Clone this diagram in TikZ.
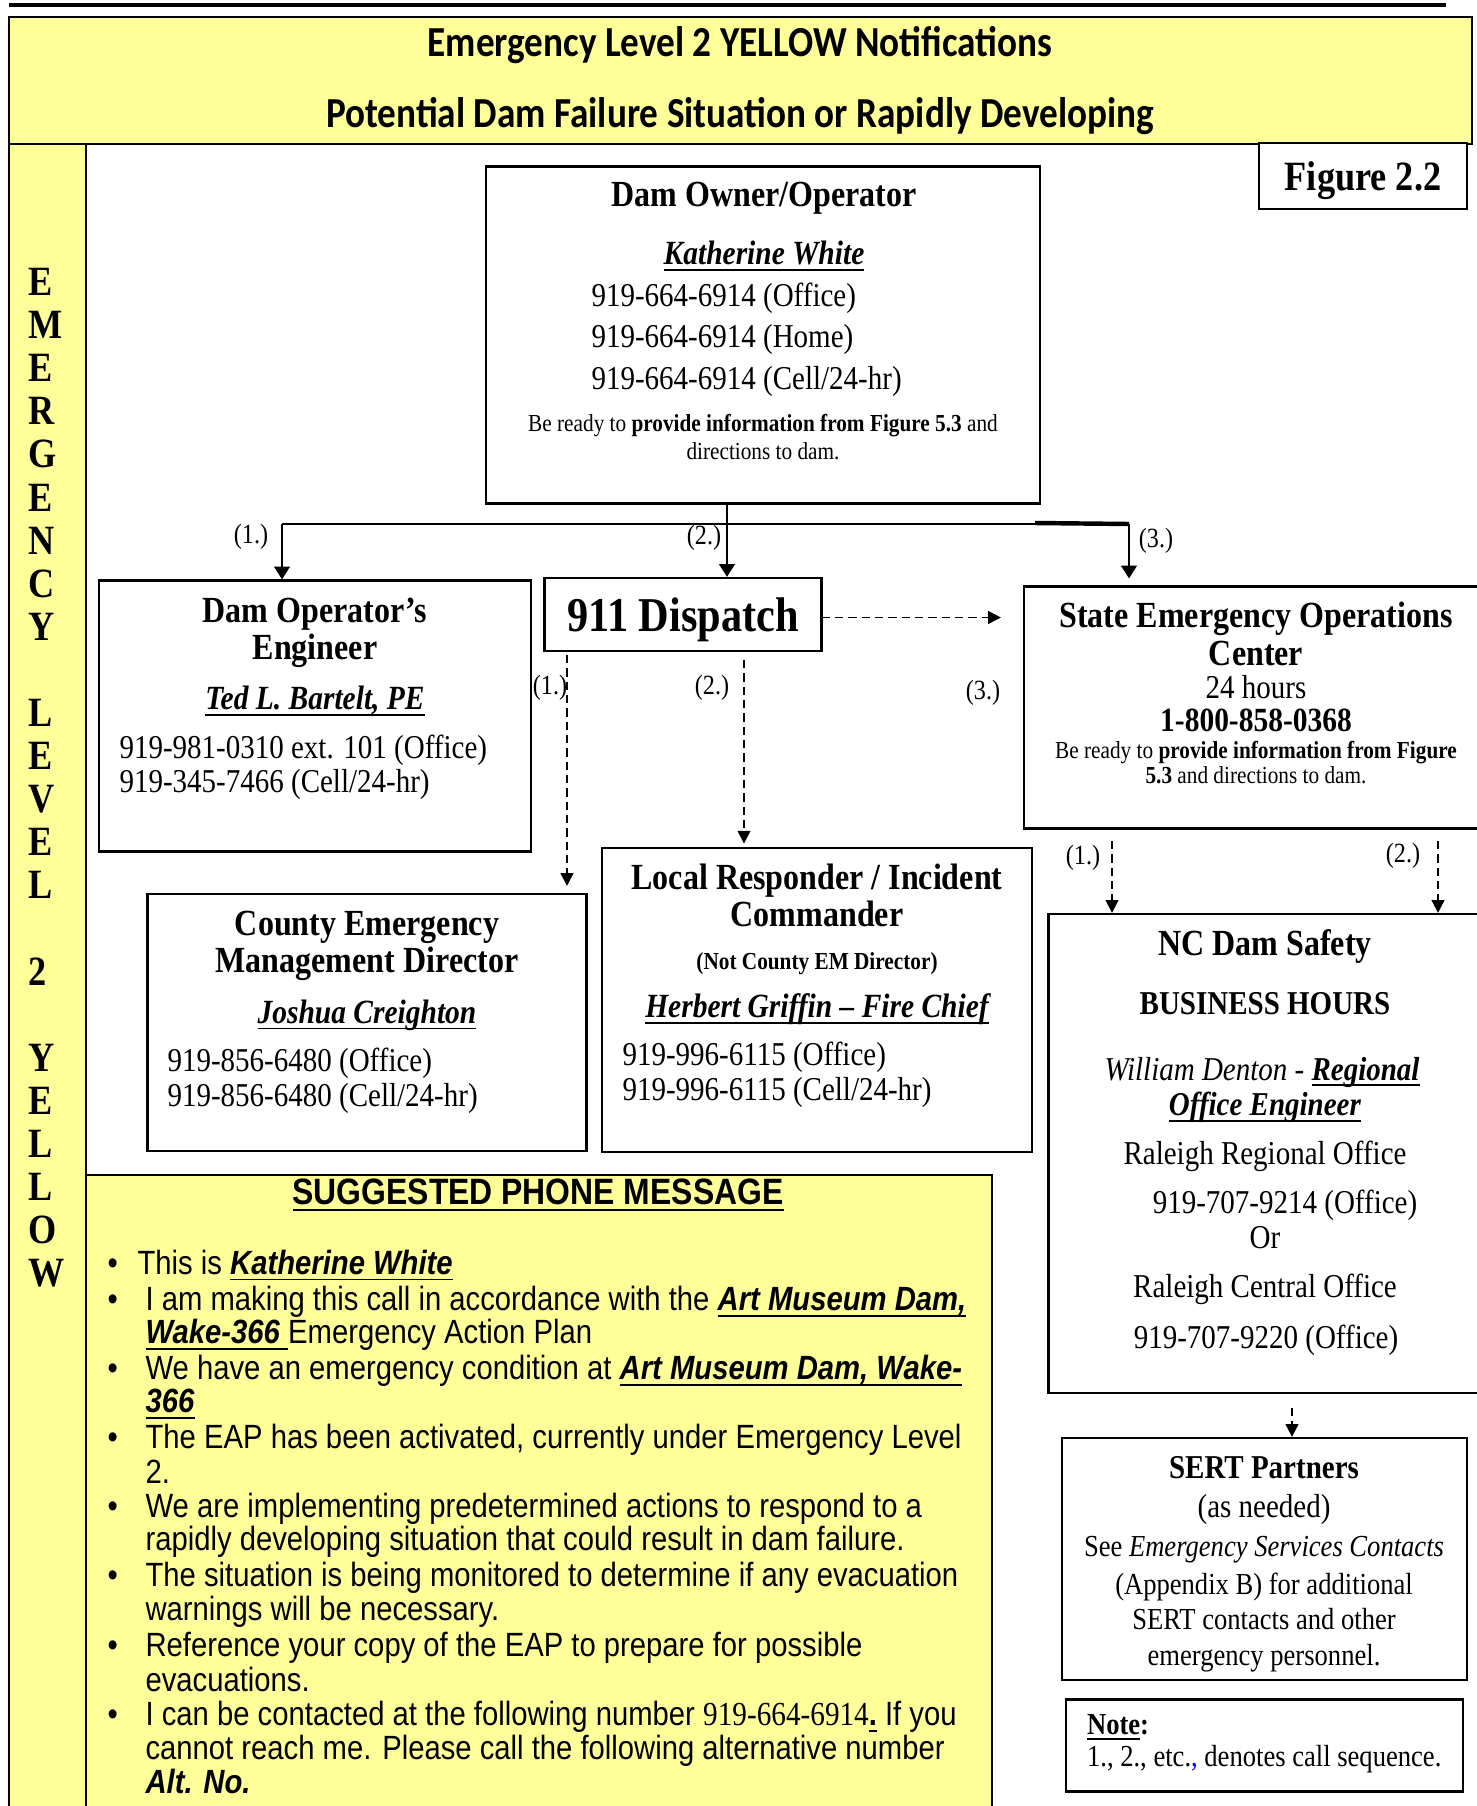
\documentclass[tikz,border=0pt]{standalone}
\usepackage{fontspec}
\setmainfont{Liberation Serif}[FakeStretch=0.87]
\newfontfamily\arialfnt{Liberation Sans}[FakeStretch=0.87]
\newfontfamily\calfnt{Carlito}[FakeStretch=0.87]
\usetikzlibrary{arrows.meta}
\definecolor{lightyellow}{HTML}{FFFF99}
\newcommand{\pxu}{0.36pt}
\newsavebox{\ulbox}
\newcommand{\uln}[1]{\sbox{\ulbox}{#1}\rlap{\rule[-2.2pt]{\wd\ulbox}{0.7pt}}\usebox{\ulbox}}
\newcommand{\ubi}[1]{\uln{\textbf{\textit{#1}}}}
\newcommand{\mbul}{\makebox[13.7pt][l]{\textbullet}}

\begin{document}
\begin{tikzpicture}[x=0.36pt, y=-0.36pt]
\useasboundingbox (0,0) rectangle (1476,1806);

% definitions
\tikzstyle{box} = [rectangle, draw=black, line width=0.8pt, inner sep=0pt, fill=white]
\tikzstyle{ybox} = [box, fill=lightyellow]
\tikzstyle{txt} = [inner sep=0pt, yshift=-0.8pt]
\tikzstyle{head} = [txt, font=\calfnt\bfseries\fontsize{15.4}{18}\selectfont]
\tikzstyle{vlet} = [inner sep=0pt, anchor=west, font=\bfseries\fontsize{15}{18}\selectfont]
\tikzstyle{ttl} = [txt, font=\bfseries\fontsize{13.25}{15}\selectfont]
\tikzstyle{nm} = [txt, font=\bfseries\itshape\fontsize{12.2}{15}\selectfont]
\tikzstyle{ph} = [txt, font=\fontsize{12}{14}\selectfont]
\tikzstyle{phw} = [ph, anchor=west]
\tikzstyle{sm} = [txt, font=\fontsize{8.8}{11}\selectfont]
\tikzstyle{body} = [txt, font=\fontsize{11}{13}\selectfont]
\tikzstyle{lbl} = [txt, font=\fontsize{10}{12}\selectfont]
\tikzstyle{msg} = [txt, anchor=west, font=\arialfnt\fontsize{12.1}{14}\selectfont]
\tikzstyle{arrow} = [-{Triangle[length=4.6pt,width=5.6pt]}, line width=0.8pt]
\tikzstyle{dasharrow} = [-{Triangle[length=4.6pt,width=4.6pt]}, line width=0.6pt, dash pattern=on 3pt off 1.8pt]

% frames
\coordinate (rule-l) at (9,5);
\coordinate (rule-r) at (1446,5);
\draw [line width=1.3pt] (rule-l) -- (rule-r);

\node (banner) [ybox, minimum width=1463*\pxu, minimum height=127*\pxu] at (740.5,80.5) {};
\node (bar) [ybox, minimum width=77*\pxu, minimum height=1668*\pxu] at (47.5,978) {};
\node (msgbox) [ybox, minimum width=906*\pxu, minimum height=637*\pxu] at (539,1493.5) {};
\node (fig) [box, minimum width=208*\pxu, minimum height=66*\pxu, text depth=0pt, font=\bfseries\fontsize{15}{18}\selectfont] at (1363,176) {Figure 2.2};

\node (hd1) [head] at (740,43) {Emergency Level 2 YELLOW Notifications};
\node (hd2) [head] at (740,114) {Potential Dam Failure Situation or Rapidly Developing};

\foreach \i/\ch in {1/E,2/M,3/E,4/R,5/G,6/E,7/N,8/C,9/Y,11/L,12/E,13/V,14/E,15/L,17/2,19/Y,20/E,21/L,22/L,23/O,24/W}
  \node (lv\i) [vlet] at (28,{282+43.09*(\i-1)}) {\ch};

% the graph
\node (owner) [box, minimum width=554*\pxu, minimum height=337*\pxu] at (763,335) {};
\node (eng) [box, minimum width=432*\pxu, minimum height=271*\pxu] at (315,716) {};
\node (disp) [box, minimum width=277*\pxu, minimum height=73*\pxu, text depth=0pt, font=\bfseries\fontsize{17.5}{20}\selectfont] at (683,614.5) {911 Dispatch};
\node (eoc) [box, minimum width=466*\pxu, minimum height=242*\pxu] at (1257,707.5) {};
\node (cty) [box, minimum width=439*\pxu, minimum height=257*\pxu] at (367,1022.5) {};
\node (loc) [box, minimum width=430*\pxu, minimum height=304*\pxu] at (817,1000) {};
\node (ncds) [box, minimum width=433*\pxu, minimum height=479*\pxu] at (1265,1153.5) {};
\node (sert) [box, minimum width=405*\pxu, minimum height=242*\pxu] at (1264.5,1559) {};
\node (note) [box, minimum width=397*\pxu, minimum height=92*\pxu] at (1264.5,1745.5) {};

% dam owner
\node (ow-t1) [ttl] at (764,196) {Dam Owner/Operator};
\node (ow-t2) [nm] at (764,253.5) {\uln{Katherine White}};
\node (ow-t3) [phw] at (591,296) {919-664-6914 (Office)};
\node (ow-t4) [phw] at (591,337.5) {919-664-6914 (Home)};
\node (ow-t5) [phw] at (591,379) {919-664-6914 (Cell/24-hr)};
\node (ow-t6) [sm] at (763,423) {Be ready to \textbf{provide information from Figure 5.3} and};
\node (ow-t7) [sm] at (763,449) {directions to dam.};

% engineer
\node (en-t1) [ttl] at (315,612) {Dam Operator’s};
\node (en-t2) [ttl] at (315,649) {Engineer};
\node (en-t3) [nm] at (315,699) {\uln{Ted L. Bartelt, PE}};
\node (en-t4) [phw] at (119,748) {919-981-0310 ext. 101 (Office)};
\node (en-t5) [phw] at (119,782) {919-345-7466 (Cell/24-hr)};

% state eoc
\node (eo-t1) [ttl] at (1256,616.5) {State Emergency Operations};
\node (eo-t2) [ttl] at (1256,651) {Center};
\node (eo-t3) [ph] at (1256,685) {24 hours};
\node (eo-t4) [ttl, font=\bfseries\fontsize{12.2}{14}\selectfont] at (1256,718) {1-800-858-0368};
\node (eo-t5) [sm] at (1256,750) {Be ready to \textbf{provide information from Figure}};
\node (eo-t6) [sm] at (1256,773) {\textbf{5.3} and directions to dam.};

% county
\node (cy-t1) [ttl] at (367,925) {County Emergency};
\node (cy-t2) [ttl] at (367,962) {Management Director};
\node (cy-t3) [nm] at (367,1013) {\uln{Joshua Creighton}};
\node (cy-t4) [phw] at (167,1061) {919-856-6480 (Office)};
\node (cy-t5) [phw] at (167,1096) {919-856-6480 (Cell/24-hr)};

% local responder
\node (lc-t1) [ttl] at (817,878) {Local Responder / Incident};
\node (lc-t2) [ttl] at (817,912) {Commander};
\node (lc-t3) [sm] at (817,961) {\textbf{(Not County EM Director)}};
\node (lc-t4) [nm] at (817,1007) {\uln{Herbert Griffin – Fire Chief}};
\node (lc-t5) [phw] at (622,1055) {919-996-6115 (Office)};
\node (lc-t6) [phw] at (622,1090) {919-996-6115 (Cell/24-hr)};

% nc dam safety
\node (nc-t1) [ttl] at (1265,944) {NC Dam Safety};
\node (nc-t2) [ph] at (1265,1001.5) {\textbf{BUSINESS HOURS}};
\node (nc-t3) [ph] at (1262,1070) {\textit{William Denton -} \ubi{Regional}};
\node (nc-t4) [ph] at (1265,1105) {\ubi{Office Engineer}};
\node (nc-t5) [ph] at (1265,1154.5) {Raleigh Regional Office};
\node (nc-t6) [ph] at (1285,1203) {919-707-9214 (Office)};
\node (nc-t7) [ph] at (1265,1235) {Or};
\node (nc-t8) [ph] at (1265,1287) {Raleigh Central Office};
\node (nc-t9) [ph] at (1266,1338) {919-707-9220 (Office)};

% sert partners
\node (se-t1) [ttl, font=\bfseries\fontsize{12}{14}\selectfont] at (1264,1465) {SERT Partners};
\node (se-t2) [ph] at (1264,1507) {(as needed)};
\node (se-t3) [body] at (1264,1547.5) {See \textit{Emergency Services Contacts}};
\node (se-t4) [body] at (1264,1585) {(Appendix B) for additional};
\node (se-t5) [body] at (1264,1617) {SERT contacts and other};
\node (se-t6) [body] at (1264,1656) {emergency personnel.};

% note
\node (nt-t1) [body, anchor=west] at (1086.5,1725) {\textbf{\uln{Note}:}};
\node (nt-t2) [body, anchor=west] at (1086.5,1757) {1., 2., etc.\textcolor{blue}{,} denotes call sequence.};

% phone message
\node (m0) [txt, font=\arialfnt\bfseries\fontsize{13.2}{15}\selectfont] at (538,1192.5) {\uln{SUGGESTED PHONE MESSAGE}};
\node (m1) [msg] at (107,1263) {\makebox[10.8pt][l]{\textbullet}This is \ubi{Katherine White}};
\node (m2) [msg] at (107,1300) {\mbul I am making this call in accordance with the \ubi{Art Museum Dam,}};
\node (m3) [msg] at (145,1333) {\ubi{Wake-366 }Emergency Action Plan};
\node (m4) [msg] at (107,1369) {\mbul We have an emergency condition at \ubi{Art Museum Dam, Wake-}};
\node (m5) [msg] at (145,1402) {\ubi{366}};
\node (m6) [msg] at (107,1438) {\mbul The EAP has been activated, currently under Emergency Level};
\node (m7) [msg] at (145,1470) {2.};
\node (m8) [msg] at (107,1507) {\mbul We are implementing predetermined actions to respond to a};
\node (m9) [msg] at (145,1540) {rapidly developing situation that could result in dam failure.};
\node (m10) [msg] at (107,1576) {\mbul The situation is being monitored to determine if any evacuation};
\node (m11) [msg] at (145,1610) {warnings will be necessary.};
\node (m12) [msg] at (107,1646) {\mbul Reference your copy of the EAP to prepare for possible};
\node (m13) [msg] at (145,1677) {evacuations.};
\node (m14) [msg] at (107,1715) {\mbul I can be contacted at the following number {\rmfamily 919-664-6914}\uln{\textbf{.}} If you};
\node (m15) [msg] at (145,1749) {cannot reach me. Please call the following alternative number};
\node (m16) [msg] at (145,1779) {\textbf{\textit{Alt. No.}}};

% connectors
\coordinate (own-out) at (727,503.5);
\coordinate (split-l) at (282,524);
\coordinate (split-r) at (1129,524);
\coordinate (split-k) at (1035,523);
\draw [line width=0.8pt] (split-l) -- (split-r);
\draw [line width=1.6pt] (split-k) -- (split-r);
\draw [arrow] (own-out) -- (own-out |- disp.north);
\draw [arrow] (split-l) -- (split-l |- eng.north);
\draw [arrow, shorten >=2.5pt] (split-r) -- (split-r |- eoc.north);

\coordinate (d-eoc) at (821.5,617.5);
\coordinate (d-cty) at (567,655);
\coordinate (d-loc) at (744,660);
\coordinate (e-nc1) at (1112,841);
\coordinate (e-nc2) at (1438,841);
\coordinate (n-sert) at (1292,1408);
\draw [dasharrow, shorten >=7.9pt] (d-eoc) -- (d-eoc -| eoc.west);
\draw [dasharrow, shorten >=2.5pt] (d-cty) -- (d-cty |- cty.north);
\draw [dasharrow, shorten >=1.2pt] (d-loc) -- (d-loc |- loc.north);
\draw [dasharrow] (e-nc1) -- (e-nc1 |- ncds.north);
\draw [dasharrow] (e-nc2) -- (e-nc2 |- ncds.north);
\draw [dasharrow] (n-sert) -- (n-sert |- sert.north);

% call sequence labels
\node (l-eng) [lbl] at (251,535) {(1.)};
\node (l-disp) [lbl] at (704,536) {(2.)};
\node (l-eoc) [lbl] at (1156,539) {(3.)};
\node (l-cty) [lbl] at (550,686) {(1.)};
\node (l-loc) [lbl] at (712,686) {(2.)};
\node (l-soc) [lbl] at (983,691) {(3.)};
\node (l-nc1) [lbl] at (1083,856) {(1.)};
\node (l-nc2) [lbl] at (1403,854) {(2.)};

\end{tikzpicture}
\end{document}
